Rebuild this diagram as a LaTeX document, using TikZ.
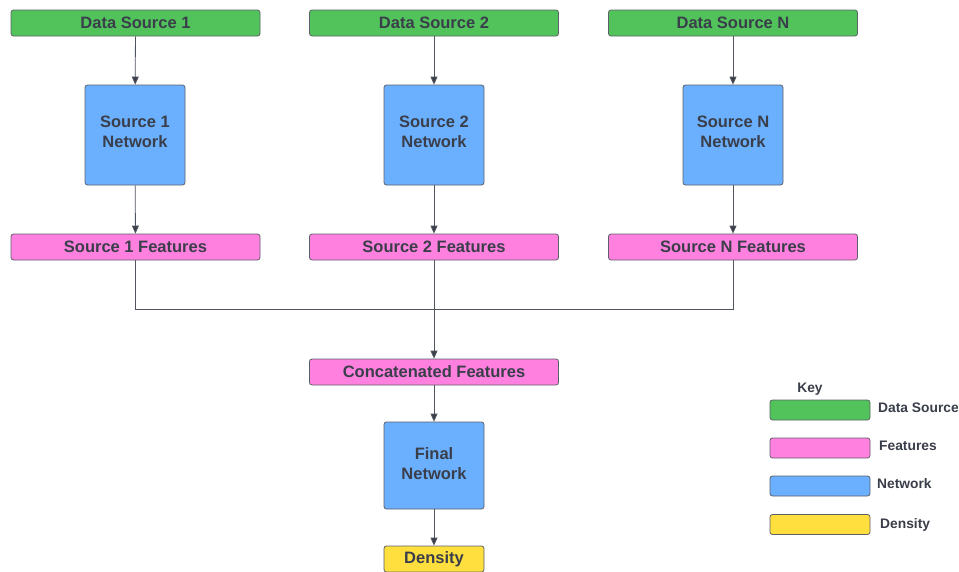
\documentclass[tikz,border=0pt]{standalone}
\usepackage{fontspec}
\setmainfont{Liberation Sans}
\usetikzlibrary{arrows.meta}
\definecolor{cgreen}{HTML}{52C35B}
\definecolor{cpink}{HTML}{FF80DE}
\definecolor{cblue}{HTML}{6BB0FF}
\definecolor{cyellow}{HTML}{FFDF3D}
\definecolor{cborder}{HTML}{5E6068}
\definecolor{ctext}{HTML}{3A3E4A}
\definecolor{cline}{HTML}{505560}
\begin{document}
\begin{tikzpicture}[x=1pt,y=-1pt,
  box/.style={draw=cborder,line width=0.8pt,rounded corners=2.5pt,inner sep=0pt,
    text=ctext,font=\fontsize{16.5}{20}\selectfont\bfseries,align=center},
  widebox/.style={box,minimum width=249pt,minimum height=26pt},
  netbox/.style={box,fill=cblue,minimum width=100pt,minimum height=100pt},
  keybox/.style={box,minimum width=100pt,minimum height=20pt},
  keylab/.style={anchor=west,text=ctext,font=\fontsize{13.8}{16}\selectfont\bfseries,inner sep=0pt},
  conn/.style={draw=cline,line width=0.8pt},
  arr/.style={conn,-{Triangle[length=8pt,width=7pt,fill=ctext]}}]
\useasboundingbox (0,0) rectangle (959,571);
% data sources
\node[widebox,fill=cgreen] (d1) at (135.5,23) {Data Source 1};
\node[widebox,fill=cgreen] (d2) at (434,23) {Data Source 2};
\node[widebox,fill=cgreen] (dn) at (733,23) {Data Source N};
% networks
\node[netbox] (n1) at (135,135) {Source 1\\Network\\[-14pt]};
\node[netbox] (n2) at (434,135) {Source 2\\Network\\[-14pt]};
\node[netbox] (nn) at (733,135) {Source N\\Network\\[-14pt]};
% features
\node[widebox,fill=cpink] (f1) at (135.5,247) {Source 1 Features};
\node[widebox,fill=cpink] (f2) at (434,247) {Source 2 Features};
\node[widebox,fill=cpink] (fn) at (733,247) {Source N Features};
% concat
\node[widebox,fill=cpink] (cf) at (434,372) {Concatenated Features};
\node[box,fill=cblue,minimum width=100pt,minimum height=87pt] (fnet) at (434,465.5) {Final\\Network\\[-17pt]};
\node[box,fill=cyellow,minimum width=100pt,minimum height=26pt] (den) at (434,559) {Density};
% arrows
\draw[arr] (d1) -- (n1);
\draw[arr] (d2) -- (n2);
\draw[arr] (dn) -- (nn);
\draw[arr] (n1) -- (f1);
\draw[arr] (n2) -- (f2);
\draw[arr] (nn) -- (fn);
\coordinate (m1) at (135,309);
\coordinate (m2) at (434,309);
\coordinate (mn) at (733,309);
\draw[conn] (f1.south -| m1) -- (m1) -- (mn) -- (fn.south -| mn);
\draw[conn] (f2.south) -- (m2);
\draw[arr] (m2) -- (cf);
\draw[arr] (cf) -- (fnet);
\draw[arr] (fnet) -- (den);
% key
\node[text=ctext,font=\fontsize{13.8}{16}\selectfont\bfseries,inner sep=0pt] (key) at (810,389) {Key};
\node[keybox,fill=cgreen] (k1) at (820,410) {};
\node[keybox,fill=cpink] (k2) at (820,448) {};
\node[keybox,fill=cblue] (k3) at (820,486) {};
\node[keybox,fill=cyellow] (k4) at (820,524.5) {};
\node[keylab] (l1) at (878,408) {Data Source};
\node[keylab] (l2) at (879,446) {Features};
\node[keylab] (l3) at (877,484) {Network};
\node[keylab] (l4) at (880,525) {Density};
\end{tikzpicture}
\end{document}
